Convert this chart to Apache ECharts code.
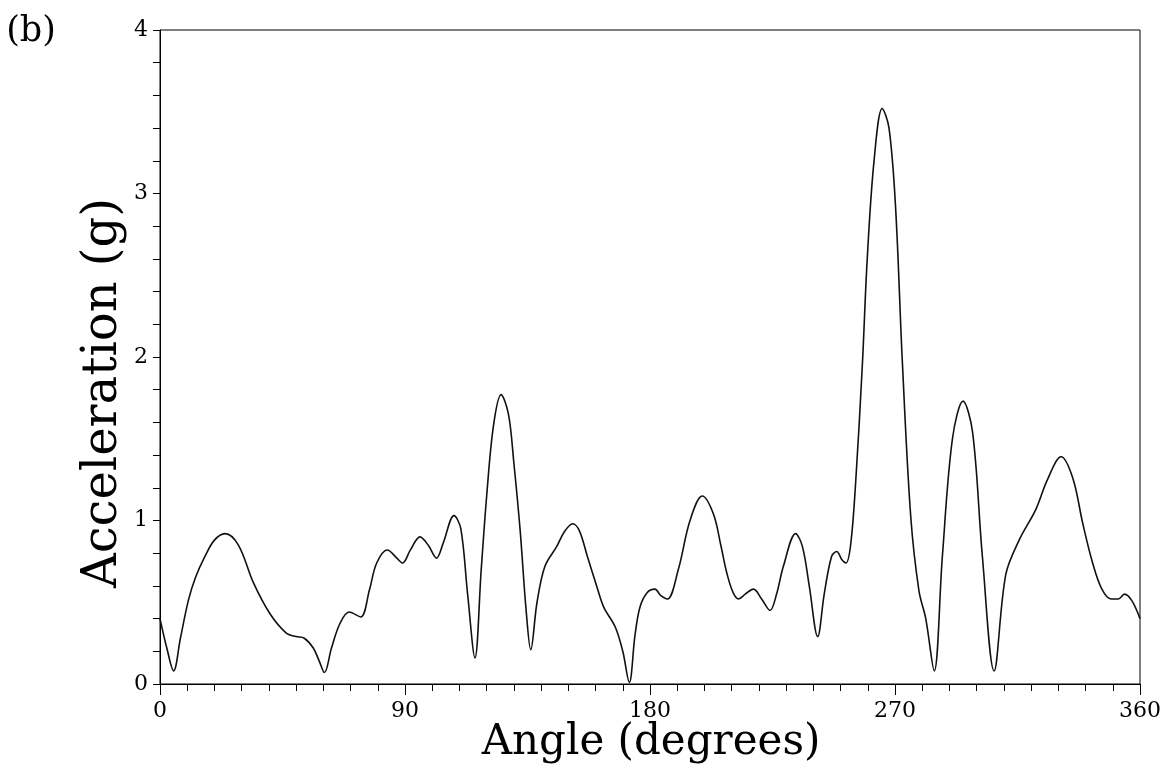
<!DOCTYPE html>
<html>
<head>
<meta charset="utf-8">
<script src="https://cdn.jsdelivr.net/npm/echarts@6/dist/echarts.min.js"></script>
<style>html,body{margin:0;padding:0;background:#fff}#c{width:1171px;height:772px}</style>
</head>
<body>
<div id="c"></div>
<script>
const angles = [0,2.5,5,7.5,10.4,13,16.5,20,23.9,28.8,34.3,40.4,46.5,50,53,56.3,58.5,60.4,63,66.1,69.5,73.7,77,79.6,83.5,87,89.1,92,95.5,98.5,101.6,104,108,110.5,113,115.7,118,120,122.5,125.3,128,130,132.3,134.5,136.2,138.5,141.4,145.7,148.5,151.6,154,157,160.4,163,167.2,170,172.4,174.5,176.3,179,181.8,184,186.4,190.4,194.7,199.2,203.3,206,208.2,210.5,212.5,215,218,221,224.1,226.5,229,233.5,236,238.5,241.6,244,246.7,248.6,250.5,252,253.7,255.5,258,259.8,262.3,265.3,267.8,270.2,272.7,275.8,278.8,281.3,284.4,287.4,291.1,295,298.5,302.1,306.4,310.7,315.6,321.8,326,331,335.3,339,342.6,346,349.4,352,354.3,357,360];
const accel = [0.40,0.22,0.08,0.28,0.51,0.65,0.78,0.88,0.92,0.85,0.62,0.43,0.31,0.29,0.28,0.22,0.14,0.07,0.22,0.37,0.44,0.41,0.58,0.74,0.82,0.77,0.74,0.82,0.90,0.85,0.77,0.86,1.03,0.95,0.55,0.16,0.70,1.15,1.58,1.77,1.65,1.35,0.94,0.45,0.21,0.50,0.72,0.84,0.93,0.98,0.94,0.78,0.60,0.47,0.35,0.20,0.01,0.30,0.47,0.56,0.58,0.54,0.52,0.70,1.00,1.15,1.04,0.85,0.68,0.56,0.52,0.55,0.58,0.52,0.45,0.55,0.72,0.92,0.84,0.60,0.29,0.55,0.78,0.81,0.76,0.74,0.85,1.22,1.95,2.60,3.20,3.52,3.40,2.92,1.97,1.02,0.57,0.40,0.08,0.78,1.50,1.73,1.54,0.78,0.08,0.67,0.88,1.07,1.25,1.39,1.26,0.98,0.74,0.58,0.52,0.52,0.55,0.51,0.40];
const xTicks = [0, 90, 180, 270, 360];
const yTicks = [0, 1, 2, 3, 4];
const xTitle = 'Angle (degrees)';
const yTitle = 'Acceleration (g)';
const panelLabel = '(b)';

const serif = '"DejaVu Serif", "Liberation Serif", serif';
const chart = echarts.init(document.getElementById('c'), null, {renderer: 'canvas'});
chart.setOption({
  animation: false,
  backgroundColor: '#fff',
  grid: {left: 160, right: 31, top: 30, bottom: 88, show: true, borderColor: '#000', borderWidth: 1, backgroundColor: 'transparent'},
  graphic: [
    {type: 'text', x: 31, y: 32, style: {text: panelLabel, font: '35px ' + serif, fill: '#000', align: 'center', verticalAlign: 'middle'}},
    {type: 'text', x: 651, y: 743, style: {text: xTitle, font: '42px ' + serif, fill: '#000', align: 'center', verticalAlign: 'middle'}},
    {type: 'text', x: 104, y: 393, rotation: Math.PI / 2, style: {text: yTitle, font: '48px ' + serif, fill: '#000', align: 'center', verticalAlign: 'middle'}}
  ],
  xAxis: {
    type: 'value', min: xTicks[0], max: xTicks[xTicks.length - 1], interval: 90,
    axisLine: {show: true, lineStyle: {color: '#000', width: 1}},
    axisTick: {show: true, inside: false, length: 11, lineStyle: {color: '#000'}},
    minorTick: {show: true, splitNumber: 9, length: 7, lineStyle: {color: '#000'}},
    splitLine: {show: false},
    axisLabel: {margin: 16, color: '#000', fontFamily: serif, fontSize: 22,
      formatter: v => xTicks.includes(v) ? String(v) : ''}
  },
  yAxis: {
    type: 'value', min: yTicks[0], max: yTicks[yTicks.length - 1], interval: 1,
    axisLine: {show: true, lineStyle: {color: '#000', width: 1}},
    axisTick: {show: true, inside: false, length: 7, lineStyle: {color: '#000'}},
    minorTick: {show: true, splitNumber: 5, length: 7, lineStyle: {color: '#000'}},
    splitLine: {show: false},
    axisLabel: {margin: 12, color: '#000', fontFamily: serif, fontSize: 22,
      formatter: v => yTicks.includes(v) ? String(v) : ''}
  },
  series: [{
    type: 'line',
    data: angles.map((a, i) => [a, accel[i]]),
    smooth: 0.35,
    symbol: 'none',
    lineStyle: {color: '#111', width: 1.6},
    clip: true
  }]
});
</script>
</body>
</html>
